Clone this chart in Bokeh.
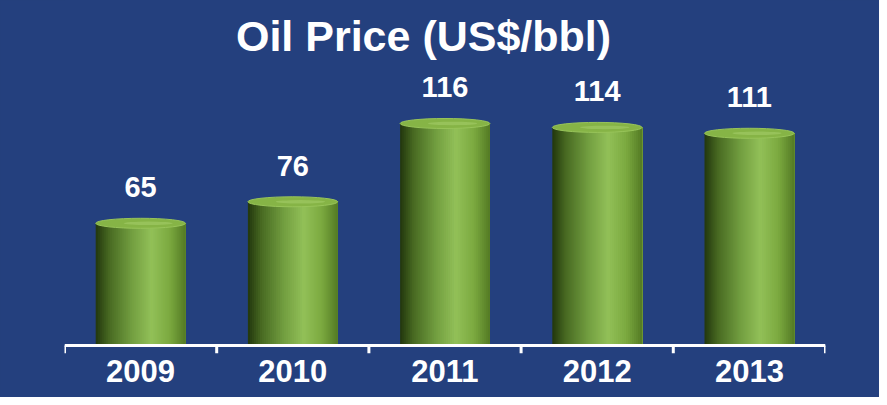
from bokeh.plotting import figure
from bokeh.models import ColumnDataSource, FactorRange, Range1d, Label
from bokeh.transform import dodge
from bokeh.core.properties import value
from bokeh.embed import file_html
from bokeh.resources import INLINE

# ---- data ----
years = ["2009", "2010", "2011", "2012", "2013"]
prices = [65, 76, 116, 114, 111]
title_text = "Oil Price (US$/bbl)"

BG = "#24407e"
FONT = "Liberation Sans"
PX_PER_UNIT = 1.957
BAR_W = 0.59
CAP_PX = 10
cap_h = CAP_PX / PX_PER_UNIT

p = figure(width=879, height=397, output_backend="svg", toolbar_location=None,
           x_range=FactorRange(*years, range_padding=0),
           y_range=Range1d(-8 / PX_PER_UNIT, 345 / PX_PER_UNIT),
           min_border_left=64, min_border_right=54, min_border_top=0,
           min_border_bottom=44, background_fill_color=BG, border_fill_color=BG,
           outline_line_color=None)
p.styles = {"background-color": BG}
p.grid.visible = False
p.yaxis.visible = False

src = ColumnDataSource(dict(
    year=years,
    value=prices,
    body_top=[v - cap_h / 2 for v in prices],
    cap_y=[v - cap_h / 2 for v in prices],
    label=[str(v) for v in prices],
))

# cylinder body as gradient strips (each strip spans to the right edge,
# drawn left to right so later strips cover earlier ones -> no seams)
def lerp(c1, c2, t):
    return tuple(int(round(a + (b - a) * t)) for a, b in zip(c1, c2))

stops = [(0.0, (34, 54, 14)), (0.15, (72, 106, 34)), (0.40, (114, 158, 64)),
         (0.62, (146, 192, 88)), (0.82, (124, 170, 64)), (1.0, (84, 122, 36))]

def grad(t):
    for (t0, c0), (t1, c1) in zip(stops[:-1], stops[1:]):
        if t0 <= t <= t1:
            return "#%02x%02x%02x" % lerp(c0, c1, (t - t0) / (t1 - t0))
    return "#%02x%02x%02x" % stops[-1][1]

N = 45
sw = BAR_W / N
for i in range(N):
    left = -BAR_W / 2 + sw * i
    w = BAR_W / 2 - left
    p.vbar(x=dodge("year", left + w / 2, range=p.x_range), top="body_top", bottom=0,
           width=w, source=src, fill_color=grad((i + 0.5) / N), line_color=None)

# top cap
p.ellipse(x="year", y="cap_y", width=BAR_W, height=cap_h, source=src,
          fill_color="#86b446", line_color="#98c45a", line_width=1)
p.ellipse(x=dodge("year", 0.05, range=p.x_range), y="cap_y", width=BAR_W * 0.55,
          height=cap_h * 0.35, source=src, fill_color="#9ec862", line_color=None,
          fill_alpha=0.7)

# value labels
p.text(x="year", y="value", text="label", source=src, y_offset=-31,
       text_align="center", text_baseline="middle", text_color="white",
       text_font=value(FONT), text_font_style="bold", text_font_size="29px")

# axis baseline and boundary ticks
n = len(years)
p.segment(x0=[0], y0=[0], x1=[n], y1=[0], line_color="white", line_width=3)
p.segment(x0=list(range(n + 1)), y0=[0] * (n + 1), x1=list(range(n + 1)),
          y1=[-8 / PX_PER_UNIT] * (n + 1), line_color="white", line_width=3)

ax = p.xaxis[0]
ax.axis_line_color = None
ax.major_tick_line_color = None
ax.minor_tick_line_color = None
ax.major_tick_in = 0
ax.major_tick_out = 0
ax.major_label_standoff = 6
ax.major_label_text_color = "white"
ax.major_label_text_font = FONT
ax.major_label_text_font_style = "bold"
ax.major_label_text_font_size = "31px"

p.add_layout(Label(x=2.359, y=310 / PX_PER_UNIT, text=title_text, text_align="center",
                   text_baseline="middle", text_color="white", text_font=FONT,
                   text_font_style="bold", text_font_size="43px"))

open("out.html", "w").write(file_html(p, INLINE))
